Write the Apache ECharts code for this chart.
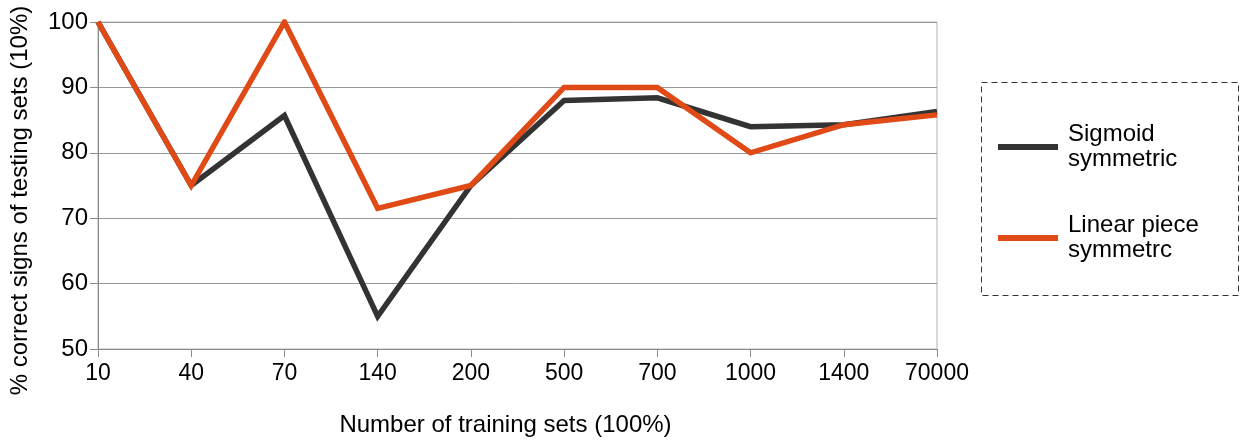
<!DOCTYPE html>
<html>
<head>
<meta charset="utf-8">
<script src="https://cdn.jsdelivr.net/npm/echarts@6/dist/echarts.min.js"></script>
<style>html,body{margin:0;padding:0;background:#fff}#c{width:1245px;height:441px}</style>
</head>
<body>
<div id="c"></div>
<script>
const categories = ['10','40','70','140','200','500','700','1000','1400','70000'];
const sigmoid = [100, 75, 85.7, 55, 75, 88, 88.4, 84, 84.3, 86.3];
const linear = [100, 75, 100, 71.5, 75, 90, 90, 80, 84.3, 85.8];
const seriesNames = ['Sigmoid symmetric', 'Linear piece symmetrc'];
const legendLabels = {'Sigmoid symmetric':'Sigmoid\nsymmetric','Linear piece symmetrc':'Linear piece\nsymmetrc'};
const yTicks = {min:50, max:100, interval:10};

const chart = echarts.init(document.getElementById('c'));
const font = '"Liberation Sans", Arial, sans-serif';
chart.setOption({
  animation:false,
  textStyle:{fontFamily:font},
  grid:{left:98,right:308,top:22,bottom:92,show:true,borderColor:'#b3b3b3',borderWidth:1,outerBoundsMode:'none',containLabel:false},
  xAxis:{
    type:'category', data:categories, boundaryGap:false,
    name:'Number of training sets (100%)', nameLocation:'middle', nameGap:64,
    nameTextStyle:{fontSize:24,color:'#000',fontFamily:font,padding:[0,24,0,0]},
    axisLine:{lineStyle:{color:'#8a8a8a'}},
    axisTick:{show:true,length:8,lineStyle:{color:'#8a8a8a'}},
    axisLabel:{fontSize:23,color:'#000',margin:13,fontFamily:font},
    splitLine:{show:false}
  },
  yAxis:{
    type:'value', min:yTicks.min, max:yTicks.max, interval:yTicks.interval,
    name:'% correct signs of testing sets (10%)', nameLocation:'middle', nameGap:66,
    nameTextStyle:{fontSize:24,color:'#000',fontFamily:font,padding:[0,30,0,0]},
    axisLine:{show:true,lineStyle:{color:'#8a8a8a'}},
    axisTick:{show:true,length:8,lineStyle:{color:'#8a8a8a'}},
    axisLabel:{fontSize:24,color:'#000',margin:10,fontFamily:font},
    splitLine:{show:true,lineStyle:{color:'#999999',width:1}}
  },
  legend:{
    orient:'vertical', left:998, top:122, itemGap:41, padding:0,
    itemWidth:60, itemHeight:6, icon:'rect',
    data:seriesNames,
    formatter:n=>legendLabels[n],
    textStyle:{fontSize:24,color:'#000',lineHeight:25,fontFamily:font,padding:[0,0,0,5]}
  },
  graphic:[{
    type:'rect', shape:{x:981.5,y:82.5,width:257,height:213},
    style:{fill:'none',stroke:'#333',lineWidth:1,lineDash:[6,4]}, silent:true
  }],
  series:[
    {name:seriesNames[0],type:'line',data:sigmoid,symbol:'none',lineStyle:{width:5.5,color:'#333333',join:'miter'},itemStyle:{color:'#333333'}},
    {name:seriesNames[1],type:'line',data:linear,symbol:'none',lineStyle:{width:5.5,color:'#e04a17',join:'miter'},itemStyle:{color:'#e04a17'}}
  ]
});
</script>
</body>
</html>
